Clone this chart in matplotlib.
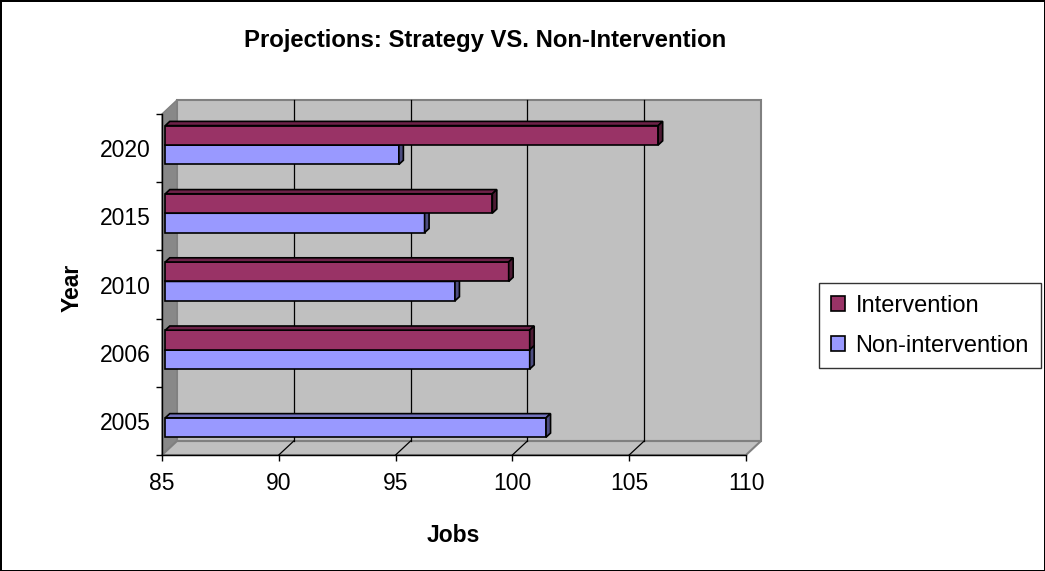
import matplotlib
matplotlib.use("Agg")
import matplotlib.pyplot as plt
from matplotlib.patches import Polygon, Patch
import numpy as np

plt.rcParams['font.family'] = ['Liberation Sans', 'DejaVu Sans']

years = ['2005', '2006', '2010', '2015', '2020']
intervention = [np.nan, 100.6, 99.7, 99.0, 106.1]
non_intervention = [101.3, 100.6, 97.4, 96.1, 95.0]
xticks = [85, 90, 95, 100, 105, 110]

int_colors = ('#993366', '#6E2249', '#4D1A33')      # front, top, side
non_colors = ('#9999FF', '#7373BF', '#4D4D80')

fig = plt.figure(figsize=(10.45, 5.71), dpi=100, edgecolor='black', linewidth=1.8)
ax = fig.add_axes([162/1045, 116/571, 584/1045, 341/571])
ax.set_xlim(85, 110)
ax.set_ylim(-0.5, 4.5)
ax.patch.set_visible(False)

# depth of the fake 3d box, in data units
dx, dy = 0.64, 0.205
x_lo, x_hi = 85, 110
y_lo, y_hi = -0.5, 4.5


def face(pts, fc, ec='black', lw=1.2, z=3):
    ax.add_patch(Polygon(pts, closed=True, fc=fc, ec=ec, lw=lw, clip_on=False, zorder=z))


# walls
face([(x_lo+dx, y_lo+dy), (x_hi+dx, y_lo+dy), (x_hi+dx, y_hi+dy), (x_lo+dx, y_hi+dy)],
     '#C0C0C0', ec='#808080', lw=1.5, z=0.5)
face([(x_lo, y_lo), (x_lo+dx, y_lo+dy), (x_lo+dx, y_hi+dy), (x_lo, y_hi)],
     '#888888', ec='#808080', lw=1.0, z=0.6)
face([(x_lo, y_lo), (x_hi, y_lo), (x_hi+dx, y_lo+dy), (x_lo+dx, y_lo+dy)],
     '#C0C0C0', ec='#808080', lw=1.5, z=0.6)

for x in xticks[1:-1]:
    ax.plot([x+dx, x+dx], [y_lo+dy, y_hi+dy], color='black', lw=0.9, zorder=0.7, clip_on=False)
    ax.plot([x, x+dx], [y_lo, y_lo+dy], color='black', lw=0.9, zorder=0.7, clip_on=False)

# bars
f0, t, h = 0.22, 0.3, 0.285


def bar3d(i, v, upper, cols):
    if np.isnan(v):
        return
    x0 = x_lo + f0*dx
    x1 = v + f0*dx
    yc = i + f0*dy
    y0, y1 = (yc, yc + h) if upper else (yc - h, yc)
    ox, oy = t*dx, t*dy
    face([(x0, y0), (x1, y0), (x1, y1), (x0, y1)], cols[0])
    face([(x0, y1), (x1, y1), (x1+ox, y1+oy), (x0+ox, y1+oy)], cols[1])
    face([(x1, y0), (x1+ox, y0+oy), (x1+ox, y1+oy), (x1, y1)], cols[2])


for i in range(len(years)):
    bar3d(i, non_intervention[i], False, non_colors)
    bar3d(i, intervention[i], True, int_colors)

# axes, ticks
for s in ['top', 'right']:
    ax.spines[s].set_visible(False)
for s in ['left', 'bottom']:
    ax.spines[s].set_color('black')
    ax.spines[s].set_linewidth(1.0)
    ax.spines[s].set_zorder(5)

ax.set_xticks(xticks)
ax.set_xticklabels([str(x) for x in xticks], fontsize=16.5)
ax.tick_params(axis='x', length=4, width=1, pad=8, direction='out')
ax.set_yticks(range(len(years)))
ax.set_yticklabels(years, fontsize=16.5)
ax.set_yticks(np.arange(-0.5, 5, 1), minor=True)
ax.tick_params(axis='y', which='major', length=0, pad=8)
ax.tick_params(axis='y', which='minor', length=4, width=1, direction='out')

fig.text(485/1045, 1 - 40/571, 'Projections: Strategy VS. Non-Intervention',
         ha='center', va='center', fontsize=17.2, fontweight='bold')
fig.text(453/1045, 1 - 535/571, 'Jobs', ha='center', va='center', fontsize=16.5, fontweight='bold')
fig.text(72/1045, 1 - 288/571, 'Year', ha='center', va='center', rotation=90,
         fontsize=16.5, fontweight='bold')

handles = [Patch(fc=int_colors[0], ec='black', lw=1.2, label='Intervention'),
           Patch(fc=non_colors[0], ec='black', lw=1.2, label='Non-intervention')]
leg = fig.legend(handles=handles, loc='upper left', bbox_to_anchor=(819/1045, 1 - 283/571),
                 fontsize=17, frameon=True, fancybox=False, shadow=False,
                 handlelength=0.6, handleheight=0.6, handletextpad=0.45,
                 labelspacing=0.75, borderpad=0.5, borderaxespad=0)
leg.get_frame().set_edgecolor('black')
leg.get_frame().set_linewidth(1.0)

fig.savefig('out.png', dpi=100)
